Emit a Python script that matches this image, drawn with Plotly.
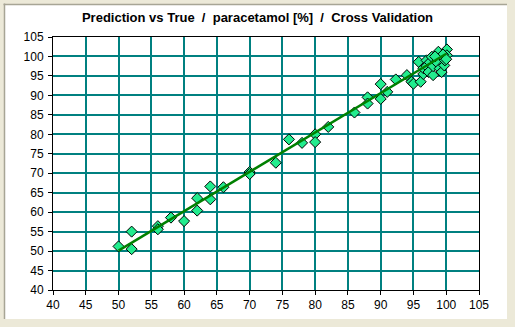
import plotly.graph_objects as go

# Reference (true) vs. cross-validated predicted paracetamol content [%]
true_vals = [50, 52, 52, 56, 56, 58, 60, 62, 62, 64, 64, 66, 70, 70, 74,
             76, 78, 80, 80, 82, 86, 88, 88, 90, 90, 91, 92.3, 94, 94.7,
             95, 95.8, 96.1, 96.5, 96.5, 97, 97, 97.3, 97.5, 97.8, 98, 98,
             98.5, 98.8, 99, 99.3, 99.7, 99.8, 100.1, 100.1, 99.5, 100, 98.3]
pred_vals = [51.2, 55.0, 50.5, 56.4, 55.6, 58.6, 57.7, 63.6, 60.4, 66.6, 63.3,
             66.4, 70.3, 69.8, 72.7, 78.7, 77.8, 80.0, 78.0, 81.9, 85.6, 89.5,
             87.9, 92.9, 89.1, 90.9, 94.1, 95.2, 93.5, 93.0, 98.6, 93.5, 95.5,
             97.0, 99.0, 97.5, 96.0, 98.5, 99.9, 95.2, 97.5, 98.6, 101.2, 96.9,
             96.0, 97.7, 99.0, 101.8, 100.3, 100.5, 99.3, 100.0]

# Regression line of predicted on true
fit_x = [50, 100]
fit_y = [50.1, 100.7]

x_ticks = list(range(40, 106, 5))
y_ticks = list(range(40, 106, 5))

title_text = "Prediction vs True\u00a0\u00a0/\u00a0\u00a0paracetamol [%]\u00a0\u00a0/\u00a0\u00a0Cross Validation"

W, H = 515, 327
L, R, T, B = 53, 36, 37, 37
pw, ph = W - L - R, H - T - B


def px(x):
    return (x - L) / pw


def py(y):
    return (H - B - y) / ph


fig = go.Figure()
fig.add_trace(go.Scatter(
    x=true_vals, y=pred_vals, mode="markers",
    marker=dict(symbol="diamond", size=8.5, color="#22EC8E",
                line=dict(color="black", width=1)),
    hoverinfo="x+y", showlegend=False))
fig.add_trace(go.Scatter(
    x=fit_x, y=fit_y, mode="lines",
    line=dict(color="#008000", width=2.5),
    hoverinfo="skip", showlegend=False))

axis_common = dict(
    showgrid=True, gridcolor="#008080", gridwidth=1.6,
    showline=True, linecolor="black", linewidth=1, mirror=True,
    ticks="outside", ticklen=4, tickcolor="black", tickwidth=1,
    zeroline=False, tickfont=dict(family="Liberation Sans, Arial", size=12, color="black"),
    fixedrange=True,
)

fig.update_xaxes(range=[40, 105], tickvals=x_ticks, ticktext=[str(v) for v in x_ticks],
                 **axis_common)
fig.update_yaxes(range=[40, 105], tickvals=y_ticks, ticktext=[str(v) for v in y_ticks],
                 ticklabelstandoff=2, **axis_common)

shapes = [
    # white panel
    dict(type="rect", xref="paper", yref="paper", layer="below",
         x0=px(4), x1=px(507), y0=py(4), y1=py(319),
         fillcolor="white", line=dict(width=0)),
    # sunken edge, top and left
    dict(type="line", xref="paper", yref="paper", layer="below",
         x0=px(3.5), x1=px(507), y0=py(4.5), y1=py(4.5),
         line=dict(color="#A7A595", width=1.5)),
    dict(type="line", xref="paper", yref="paper", layer="below",
         x0=px(4.5), x1=px(4.5), y0=py(3.5), y1=py(319),
         line=dict(color="#A7A595", width=1.5)),
]

fig.update_layout(
    width=W, height=H,
    margin=dict(l=L, r=R, t=T, b=B),
    paper_bgcolor="#ECE9D8", plot_bgcolor="white",
    shapes=shapes,
    title=dict(text="<b>" + title_text + "</b>", x=0.5, xref="container", xanchor="center",
               y=(H - 17) / H, yref="container", yanchor="middle",
               font=dict(family="Liberation Sans, Arial", size=13, color="black")),
    font=dict(family="Liberation Sans, Arial"),
)

fig.write_html("out.html")
